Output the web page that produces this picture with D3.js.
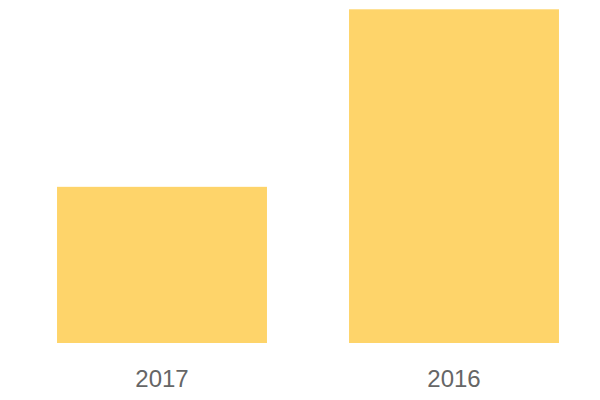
<!DOCTYPE html>
<html>
<head>
<meta charset="utf-8">
<script src="https://cdn.jsdelivr.net/npm/d3@7"></script>
<style>
  body { margin: 0; background: #fff; }
  svg { display: block; }
</style>
</head>
<body>
<div id="chart"><svg width="600" height="400"></svg></div>
<script>
// data
const years = ['2017', '2016'];
const values = [46.8, 100];

const svg = d3.select('#chart svg');

const x = d3.scaleBand()
    .domain(years)
    .range([16, 600])
    .paddingInner(0.281)
    .paddingOuter(0.1405);

const y = d3.scaleLinear()
    .domain([0, 100])
    .range([343, 9.3]);

svg.append('g')
    .selectAll('rect')
    .data(years)
    .enter()
    .append('rect')
    .attr('x', d => x(d))
    .attr('width', x.bandwidth())
    .attr('y', (d, i) => y(values[i]))
    .attr('height', (d, i) => y(0) - y(values[i]))
    .attr('fill', '#fed46a');

// x axis labels, no line or ticks
const xAxis = svg.append('g')
    .attr('transform', 'translate(0,343)')
    .call(d3.axisBottom(x).tickSize(0).tickPadding(0));
xAxis.select('.domain').remove();
xAxis.selectAll('text')
    .attr('dy', null)
    .attr('y', 44)
    .attr('fill', '#666')
    .style('font-family', '"Liberation Sans", Arial, sans-serif')
    .style('font-size', '24px');
</script>
</body>
</html>
